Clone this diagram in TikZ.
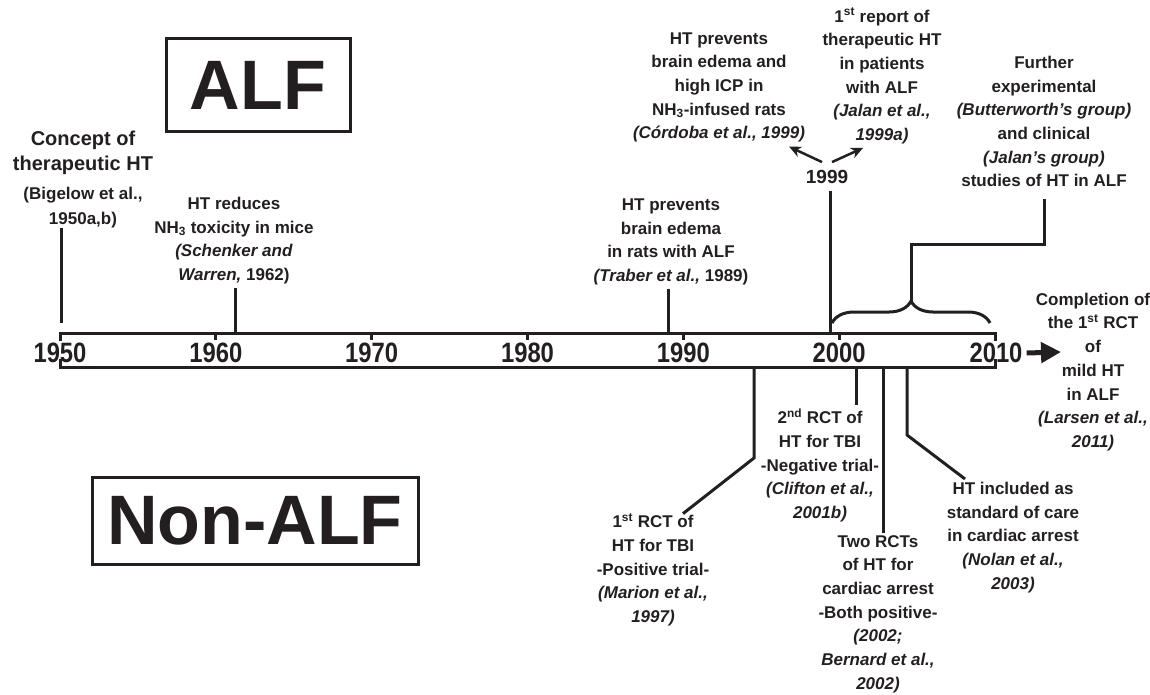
\documentclass[tikz,border=0pt]{standalone}
\usepackage{fontspec}
\setmainfont{Liberation Sans}
\usetikzlibrary{arrows.meta,decorations.pathreplacing,calc}
\definecolor{ink}{HTML}{231F20}
\begin{document}
\begin{tikzpicture}[x=1pt,y=-1pt,
 txt/.style={font=\fontsize{17}{23.7}\selectfont\bfseries, align=center, inner sep=0pt, text=ink},
 bigtxt/.style={font=\fontsize{20}{25}\selectfont\bfseries, align=center, inner sep=0pt, text=ink},
 yr/.style={font=\fontsize{28}{28}\selectfont\bfseries, inner sep=0pt, text=ink},
 boxlbl/.style={draw=ink, line width=3pt, font=\fontsize{70}{70}\selectfont\bfseries, text=ink, inner sep=0pt},
 ln/.style={draw=ink, line width=3pt},
 arr/.style={draw=ink, line width=2.5pt, -{Stealth[length=12pt,width=11pt]}},
]
\useasboundingbox (0,0) rectangle (1150,695);

% boxes
\node[boxlbl, minimum width=184pt, minimum height=93pt] (alf) at (258,85.5) {ALF};
\node[boxlbl, minimum width=326pt, minimum height=87pt] (nonalf) at (255,520.5) {Non-ALF};

% axis
\draw[ln] (60,341) -- (60,333) -- (995,333) -- (995,341);
\draw[ln] (60,359) -- (60,367) -- (995,367) -- (995,359);
\foreach \x in {215.8,371.7,527.5,683.3,839.2} \draw[ln] (\x,333) -- (\x,340);
\node[yr] (l1950) at (60,353) {\scalebox{0.85}[1]{1950}};
\node[yr] (l1960) at (215.8,353) {\scalebox{0.85}[1]{1960}};
\node[yr] (l1970) at (371.7,353) {\scalebox{0.85}[1]{1970}};
\node[yr] (l1980) at (527.5,353) {\scalebox{0.85}[1]{1980}};
\node[yr] (l1990) at (683.3,353) {\scalebox{0.85}[1]{1990}};
\node[yr] (l2000) at (839.2,353) {\scalebox{0.85}[1]{2000}};
\node[yr] (l2010) at (996,353) {\scalebox{0.85}[1]{2010}};
\coordinate (aend) at (1061,352);
\draw[draw=ink, line width=5pt, -{Triangle[length=20pt,width=20pt]}] ([xshift=4pt]l2010.east) -- (aend);

% upper events
\node[bigtxt] (concept) at (83,152.5) {Concept of\\therapeutic HT};
\node[font=\fontsize{17}{25}\selectfont\bfseries, align=center, inner sep=0pt, text=ink] (bigelow) at (83,207.5) {(Bigelow et al.,\\1950a,b)};
\coordinate (e1950) at (61,323);
\draw[ln] (e1950 |- bigelow.south) -- (e1950);

\node[txt] (reduces) at (234,240.5) {HT reduces\\NH\textsubscript{3} toxicity in mice\\\textit{(Schenker and}\\\textit{Warren,} 1962)};
\coordinate (a1962) at (235,333);
\draw[ln, shorten <=4pt] (a1962 |- reduces.south) -- (a1962);

\node[txt] (traber) at (671,242) {HT prevents\\brain edema\\in rats with ALF\\\textit{(Traber et al.,} 1989)};
\coordinate (a1989) at (668,333);
\draw[ln, shorten <=4pt] (a1989 |- traber.south) -- (a1989);

\node[txt] (cordoba) at (719,87.5) {HT prevents\\brain edema and\\high ICP in\\NH\textsubscript{3}-infused rats\\\textit{(Córdoba et al., 1999)}};
\node[font=\fontsize{17}{23.6}\selectfont\bfseries, align=center, inner sep=0pt, text=ink] (jalan) at (882,76) {1\textsuperscript{st} report of\\therapeutic HT\\in patients\\with ALF\\\textit{(Jalan et al.,}\\\textit{1999a)}};
\node[font=\fontsize{19}{19}\selectfont\bfseries, inner sep=0pt, text=ink] (n1999) at (827,177) {1999};
\coordinate (a1999) at (830,333);
\draw[ln, shorten <=7pt] (a1999 |- n1999.south) -- (a1999);
\draw[arr] ([shift={(-5pt,8pt)}]n1999.north) -- ([shift={(-16pt,-4pt)}]cordoba.south east);
\draw[arr] ([shift={(5pt,8pt)}]n1999.north) -- ([shift={(-19pt,-4pt)}]jalan.south);

\node[txt] (further) at (1044,121.5) {Further\\experimental\\\textit{(Butterworth’s group)}\\and clinical\\\textit{(Jalan’s group)}\\studies of HT in ALF};
\draw[ln, decorate, decoration={brace, amplitude=22pt}] (832,323) -- (990,323);
\coordinate (btip) at (911,301);
\coordinate (bend) at (911,244);
\draw[ln, shorten >=12pt] (btip) -- (bend) -| (further.south);

% lower events
\node[txt] (rct1) at (653,570) {1\textsuperscript{st} RCT of\\HT for TBI\\-Positive trial-\\\textit{(Marion et al.,}\\\textit{1997)}};
\coordinate (a1994) at (754,367);
\coordinate (k1994) at (754,458);
\draw[ln] (a1994) -- (k1994) -- ([xshift=30pt]rct1.north);

\node[txt] (rct2) at (820,465.5) {2\textsuperscript{nd} RCT of\\HT for TBI\\-Negative trial-\\\textit{(Clifton et al.,}\\\textit{2001b)}};
\coordinate (a2001) at (856,367);
\draw[ln, shorten >=4pt] (a2001) -- (a2001 |- rct2.north);

\node[txt] (tworct) at (878,614) {Two RCTs\\of HT for\\cardiac arrest\\-Both positive-\\\textit{(2002;}\\\textit{Bernard et al.,}\\\textit{2002)}};
\coordinate (a2002) at (883,367);
\draw[ln, shorten >=2pt] (a2002) -- (a2002 |- tworct.north);

\node[txt] (nolan) at (1013,537.5) {HT included as\\standard of care\\in cardiac arrest\\\textit{(Nolan et al.,}\\\textit{2003)}};
\coordinate (a2003) at (907,367);
\coordinate (k2003) at (907,435);
\draw[ln] (a2003) -- (k2003) -- ([shift={(-48pt,3pt)}]nolan.north);

\node[txt] (compl) at (1093,372) {Completion of\\the 1\textsuperscript{st} RCT\\of\\mild HT\\in ALF\\\textit{(Larsen et al.,}\\\textit{2011)}};
\end{tikzpicture}
\end{document}
